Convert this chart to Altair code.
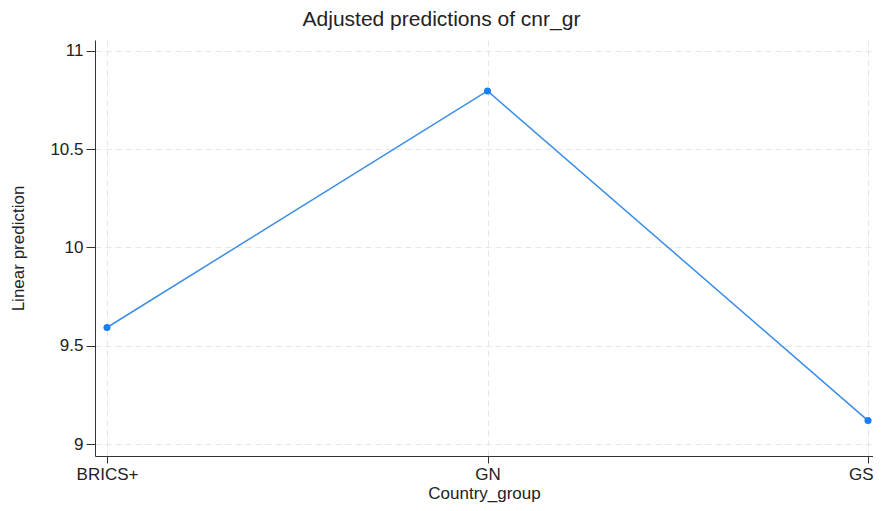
import altair as alt
import pandas as pd

categories = ["BRICS+", "GN", "GS"]
values = [9.593, 10.795, 9.12]
y_ticks = [9, 9.5, 10, 10.5, 11]

df = pd.DataFrame({"idx": list(range(len(categories))), "group": categories, "pred": values})

label_expr = "[" + ",".join(f"'{c}'" for c in categories) + "][datum.value]"

x = alt.X("idx:Q",
          scale=alt.Scale(domain=[-0.0315, 2.0131], nice=False, zero=False),
          axis=alt.Axis(values=[0, 1, 2], labelExpr=label_expr, title="Country_group",
                        labelAlign=alt.ExprRef(expr="datum.value == 2 ? 'right' : 'center'"),
                        labelOffset=alt.ExprRef(expr="datum.value == 2 ? 5 : 0"),
                        grid=True, gridDash=[6, 4], gridColor="#e6e6e6",
                        tickSize=7, labelPadding=3, titlePadding=3,
                        labelFontSize=17, titleFontSize=17))
y = alt.Y("pred:Q",
          scale=alt.Scale(domain=[8.94, 11.054], nice=False, zero=False),
          axis=alt.Axis(values=y_ticks, format="~g", title="Linear prediction",
                        grid=True, gridDash=[6, 4], gridColor="#e6e6e6",
                        tickSize=9, labelPadding=3, titlePadding=22,
                        labelFontSize=17, titleFontSize=17))

base = alt.Chart(df)
line = base.mark_line(color="#3a8ee6", strokeWidth=1.5).encode(x=x, y=y)
pts = base.mark_circle(color="#1a7ff0", size=50, opacity=1).encode(x=x, y=y)

chart = (line + pts).properties(
    width=778, height=416,
    background="white",
    title=alt.TitleParams("Adjusted predictions of cnr_gr", fontSize=21, fontWeight="normal",
                          font="Liberation Sans", color="#222222", anchor="middle", frame="bounds", offset=10),
    padding={"left": 87, "top": 32, "right": 0, "bottom": 47},
    autosize=alt.AutoSizeParams(type="none"),
).configure_view(strokeWidth=0).configure_axis(
    labelFont="Liberation Sans", titleFont="Liberation Sans",
    labelColor="#222222", titleColor="#222222", titleFontWeight="normal",
    domainColor="#333333", tickColor="#333333", domainWidth=1, tickWidth=1,
)

chart.save("out.html", embed_options={"renderer": "svg", "actions": False})
